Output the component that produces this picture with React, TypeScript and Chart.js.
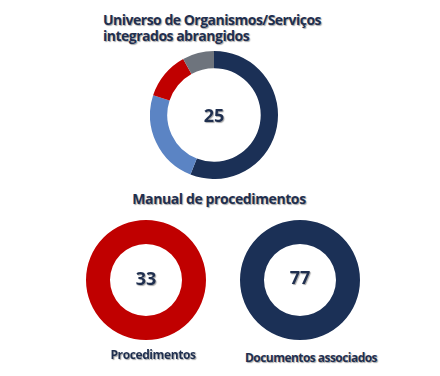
import React, { useEffect, useRef } from "react";
import { Chart, registerables } from "chart.js";

Chart.register(...registerables);

const topTitle = ["Universo de Organismos/Serviços", "integrados abrangidos"];
const topLabels = ["Organismos A", "Organismos B", "Organismos C", "Organismos D"];
const topValues = [14, 6, 3, 2];
const topColors = ["#1b3056", "#5b84c4", "#c00000", "#6e747d"];
const topTotal = "25";

const bottomTitle = "Manual de procedimentos";
const bottomLabels = ["Procedimentos", "Documentos associados"];
const bottomValues = [33, 77];
const bottomColors = ["#c00000", "#1b3056"];

const TEXT = "#1f2f4f";
const FONT = "'Open Sans', 'DejaVu Sans', sans-serif";
const SHADOW = "1px 1px 1px rgba(0,0,0,0.35)";

function Donut(props: {
  values: number[];
  labels: string[];
  colors: string[];
  cutout: string;
  left: number;
  top: number;
  size: number;
}) {
  const ref = useRef<HTMLCanvasElement | null>(null);
  useEffect(() => {
    if (!ref.current) return;
    const chart = new Chart(ref.current, {
      type: "doughnut",
      data: {
        labels: props.labels,
        datasets: [
          {
            data: props.values,
            backgroundColor: props.colors,
            borderWidth: 0,
          },
        ],
      },
      options: {
        animation: false,
        responsive: true,
        maintainAspectRatio: false,
        cutout: props.cutout,
        layout: { padding: 0 },
        plugins: { legend: { display: false }, tooltip: { enabled: false } },
      },
    });
    return () => chart.destroy();
  }, []);
  return (
    <div
      style={{
        position: "absolute",
        left: props.left,
        top: props.top,
        width: props.size,
        height: props.size,
      }}
    >
      <canvas ref={ref} />
    </div>
  );
}

const textStyle: React.CSSProperties = {
  position: "absolute",
  fontFamily: FONT,
  fontWeight: 700,
  color: TEXT,
  textShadow: SHADOW,
  whiteSpace: "nowrap",
};

export default function App() {
  return (
    <div
      style={{
        position: "absolute",
        left: 0,
        top: 0,
        width: 440,
        height: 376,
        background: "#ffffff",
        overflow: "hidden",
      }}
    >
      <div style={{ ...textStyle, left: 103, top: 12, fontSize: 14, lineHeight: "16px", letterSpacing: -0.5 }}>
        {topTitle[0]}
        <br />
        {topTitle[1]}
      </div>
      <Donut values={topValues} labels={topLabels} colors={topColors} cutout="73%" left={150} top={51} size={128} />
      <div style={{ ...textStyle, left: 164, top: 102, width: 100, textAlign: "center", fontSize: 18, lineHeight: "26px" }}>
        {topTotal}
      </div>

      <div style={{ ...textStyle, left: 99, top: 190, width: 240, textAlign: "center", fontSize: 14, lineHeight: "18px", letterSpacing: -0.4 }}>
        {bottomTitle}
      </div>

      <Donut values={[bottomValues[0]]} labels={[bottomLabels[0]]} colors={[bottomColors[0]]} cutout="60%" left={86} top={220} size={120} />
      <div style={{ ...textStyle, left: 96, top: 265, width: 100, textAlign: "center", fontSize: 18, lineHeight: "26px" }}>
        {String(bottomValues[0])}
      </div>
      <div style={{ ...textStyle, left: 93, top: 347, width: 120, textAlign: "center", fontSize: 12, lineHeight: "16px", letterSpacing: -0.4 }}>
        {bottomLabels[0]}
      </div>

      <Donut values={[bottomValues[1]]} labels={[bottomLabels[1]]} colors={[bottomColors[1]]} cutout="60%" left={240} top={220} size={120} />
      <div style={{ ...textStyle, left: 250, top: 264, width: 100, textAlign: "center", fontSize: 18, lineHeight: "26px" }}>
        {String(bottomValues[1])}
      </div>
      <div style={{ ...textStyle, left: 231, top: 350, width: 160, textAlign: "center", fontSize: 12, lineHeight: "16px", letterSpacing: -0.55 }}>
        {bottomLabels[1]}
      </div>
    </div>
  );
}
